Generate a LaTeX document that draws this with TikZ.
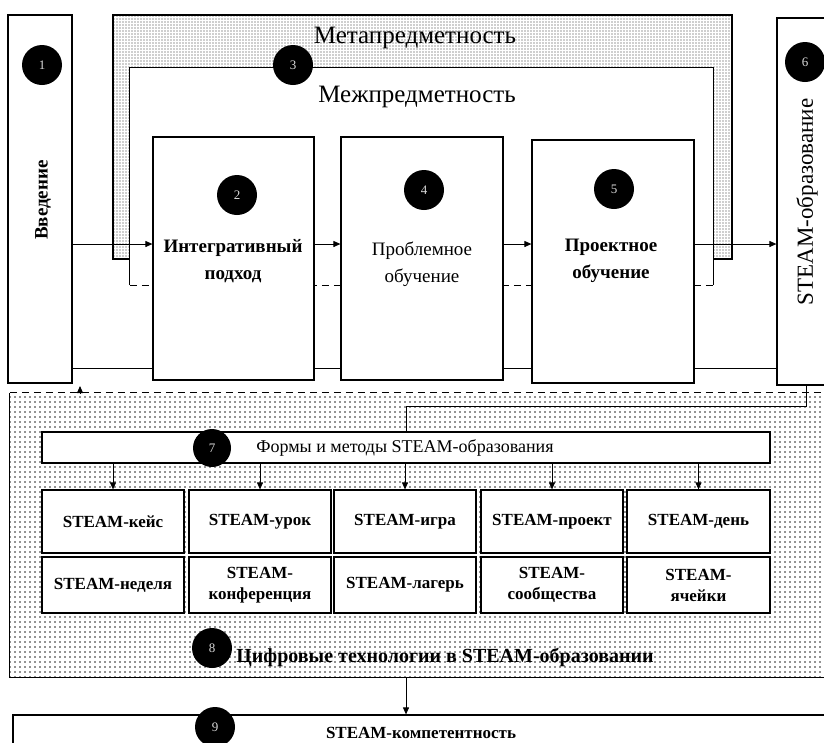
\documentclass[tikz,border=0pt]{standalone}
\usepackage{fontspec}
\setmainfont{Liberation Serif}
\usetikzlibrary{arrows.meta,patterns.meta}
\begin{document}
\begin{tikzpicture}[x=1pt,y=-1pt,
  box/.style={draw,line width=1.2pt,fill=white,inner sep=0pt},
  num/.style={circle,fill=black,minimum size=40pt,inner sep=0pt,text=white!85!black,font=\fontsize{13}{13}\selectfont},
  conn/.style={line width=0.9pt},
  arr/.style={line width=0.9pt,-{Triangle[length=7pt,width=6pt]}},
  cellbox/.style={box,minimum width=142pt},
  celltxt/.style={align=center,font=\bfseries\fontsize{17}{21}\selectfont},
  boxtxt/.style={align=center,font=\bfseries\fontsize{19}{27}\selectfont},
  bigtxt/.style={font=\fontsize{25}{25}\selectfont},
]
\useasboundingbox (0,0) rectangle (824,742);
\clip (0,0) rectangle (824,742);
\fill[white] (0,0) rectangle (824,742);

% Metapredmetnost band and Mezhpredmetnost frame
\node[draw,line width=1.2pt,inner sep=0pt,pattern={Dots[distance=3pt,radius=0.55pt]},pattern color=black!80,
  minimum width=619pt,minimum height=244pt] (meta) at (422.5,137) {};
\node[fill=white,inner sep=0pt,minimum width=583pt,minimum height=217pt] (mezh) at (421.5,176.5) {};
\draw[line width=1.2pt] (mezh.south west) -- (mezh.north west) -- (mezh.north east) -- (mezh.south east);
\draw[line width=1.2pt,dashed,dash pattern=on 7pt off 5pt] (mezh.south west) -- (mezh.south east);
\node[bigtxt] (tmeta) at (415,38) {Метапредметность};
\node[bigtxt] (tmezh) at (417,97) {Межпредметность};

% main boxes
\node[box,minimum width=64pt,minimum height=368pt] (b1) at (40,199) {};
\node[box,minimum width=161pt,minimum height=243pt] (b2) at (233.5,258.5) {};
\node[box,minimum width=162pt,minimum height=243pt] (b4) at (422,258.5) {};
\node[box,minimum width=162pt,minimum height=243pt] (b5) at (613,261.5) {};
\node[box,minimum width=58pt,minimum height=367pt] (b6) at (806,201.5) {};

\node[rotate=90,font=\bfseries\fontsize{19}{19}\selectfont] (t1) at (43,200) {Введение};
\node[rotate=90,font=\fontsize{23}{23}\selectfont] (t6) at (807,202) {STEAM-образование};
\node[boxtxt] (t2) at (233,261) {Интегративный\\подход};
\node[align=center,font=\fontsize{19}{27}\selectfont] (t4) at (422,264) {Проблемное\\обучение};
\node[boxtxt] (t5) at (611,261) {Проектное\\обучение};

\node[num] (n1) at (42,65) {1};
\node[num] (n3) at (293,65) {3};
\node[num] (n2) at (237,195) {2};
\node[num] (n4) at (424,190) {4};
\node[num] (n5) at (614,189) {5};
\node[num] (n6) at (805,62) {6};

% connectors upper part
\coordinate (ya) at (0,244);
\coordinate (yb) at (0,368);
\coordinate (yc) at (0,406);
\draw[arr] (b1.east |- ya) -- (b2.west |- ya);
\draw[arr] (b2.east |- ya) -- (b4.west |- ya);
\draw[arr] (b4.east |- ya) -- (b5.west |- ya);
\draw[arr] (b5.east |- ya) -- (b6.west |- ya);
\draw[conn] (b1.east |- yb) -- (b2.west |- yb);
\draw[conn] (b2.east |- yb) -- (b4.west |- yb);
\draw[conn] (b4.east |- yb) -- (b5.west |- yb);
\draw[conn] (b5.east |- yb) -- (b6.west |- yb);

% lower region
\node[inner sep=0pt,pattern={Dots[distance=5pt,radius=0.8pt]},pattern color=black!85,
  minimum width=830pt,minimum height=284pt] (reg) at (425,535) {};
\draw[line width=1.2pt] (reg.north west) -- (reg.south west) -- (reg.south east);
\draw[line width=1.2pt,dashed,dash pattern=on 7pt off 5pt] (reg.north west) -- (reg.north east);
\coordinate (tip) at (80,386);
\draw[arr] (tip |- reg.north) -- (tip);

\node[box,minimum width=728pt,minimum height=31pt] (b7) at (406,447.5) {};
\node[font=\fontsize{18}{18}\selectfont] (t7) at (405,448) {Формы и методы STEAM-образования};
\node[num,minimum size=38pt] (n7) at (212,448) {7};
\draw[conn] (b6.south) -- (b6.south |- yc) -| (b7.north);

\node[cellbox,minimum height=63pt] (c11) at (113,521.5) {};
\node[cellbox,minimum height=63pt] (c12) at (260,521.5) {};
\node[cellbox,minimum height=63pt] (c13) at (405,521.5) {};
\node[cellbox,minimum height=63pt] (c14) at (552,521.5) {};
\node[cellbox,minimum height=63pt,minimum width=143pt] (c15) at (698.5,521.5) {};
\node[cellbox,minimum height=56pt] (c21) at (113,585) {};
\node[cellbox,minimum height=56pt] (c22) at (260,585) {};
\node[cellbox,minimum height=56pt] (c23) at (405,585) {};
\node[cellbox,minimum height=56pt] (c24) at (552,585) {};
\node[cellbox,minimum height=56pt,minimum width=143pt] (c25) at (698.5,585) {};

\node[celltxt] at (c11) {STEAM-кейс};
\node[celltxt] at (c12) {STEAM-урок};
\node[celltxt] at (c13) {STEAM-игра};
\node[celltxt] at (c14) {STEAM-проект};
\node[celltxt] at (c15) {STEAM-день};
\node[celltxt] at (c21) {STEAM-неделя};
\node[celltxt] at (c22) {STEAM-\\конференция};
\node[celltxt] at (c23) {STEAM-лагерь};
\node[celltxt] at (c24) {STEAM-\\сообщества};
\node[celltxt] at (c25) {STEAM-\\ячейки};

\foreach \c in {c11,c12,c13,c14,c15}
  \draw[arr] (\c.north |- b7.south) -- (\c.north);

\node[num] (n8) at (212,648) {8};
\node[font=\bfseries\fontsize{20}{20}\selectfont] (t8) at (445,657) {Цифровые технологии в STEAM-образовании};

% bottom box
\node[box,minimum width=827pt,minimum height=55pt] (b9) at (426.5,742.5) {};
\draw[arr] (b7.north |- reg.south) -- (b7.north |- b9.north);
\node[num] (n9) at (215,727) {9};
\node[font=\bfseries\fontsize{17}{17}\selectfont] (t9) at (421,733) {STEAM-компетентность};
\end{tikzpicture}
\end{document}
